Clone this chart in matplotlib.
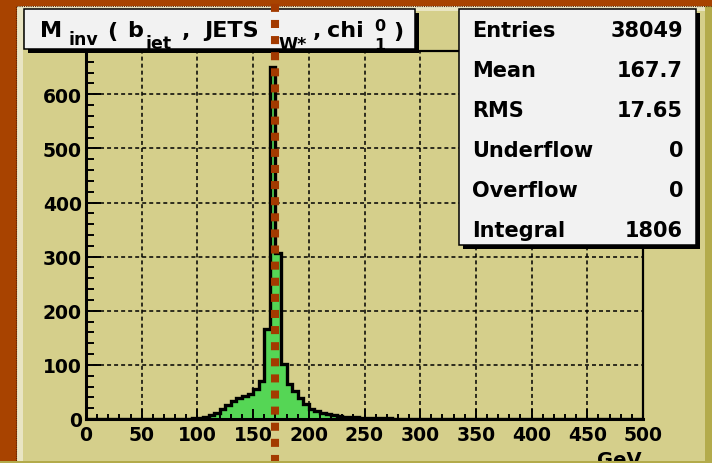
import numpy as np
import matplotlib
matplotlib.use("Agg")
import matplotlib.pyplot as plt
from matplotlib.patches import Rectangle
from matplotlib.lines import Line2D
from matplotlib import transforms

W, H = 712, 464

# histogram: 5 GeV bins from 0 to 500, non-empty part starts at 95 GeV
bin_width = 5
x_min, x_max = 0, 500
first_bin = 95
counts = [1, 2, 4, 7, 11, 18, 26, 34, 39, 42, 47, 55, 71, 166, 650, 306,
          102, 65, 51, 39, 27, 19, 14, 11, 9, 7, 5, 4, 3, 3, 2, 2, 1, 1, 1, 1]
marker_x = 170

x_ticks = [0, 50, 100, 150, 200, 250, 300, 350, 400, 450, 500]
y_ticks = [0, 100, 200, 300, 400, 500, 600]
y_max = 680

stat_names = ["Entries", "Mean", "RMS", "Underflow", "Overflow", "Integral"]
stat_values = ["38049", "167.7", "17.65", "0", "0", "1806"]

edges = np.arange(x_min, x_max + bin_width, bin_width)
values = np.zeros(len(edges) - 1)
i0 = first_bin // bin_width
values[i0:i0 + len(counts)] = counts

BG = "#a84300"
PAD = "#d5cf8b"
GREEN = "#55d655"
BOX = "#f2f2f2"
DASH = "#a33a00"
bold = dict(family="DejaVu Sans", weight="bold")


def px(x, y):
    return x / W, 1 - y / H


def rect(x0, y0, x1, y1, **kw):
    fig.add_artist(Rectangle(px(x0, y1), (x1 - x0) / W, (y1 - y0) / H,
                             transform=fig.transFigure, **kw))


fig = plt.figure(figsize=(W / 100, H / 100), dpi=100, facecolor=BG)

# pad with bevel
rect(17, 7, 712, 464, facecolor=PAD, edgecolor="none", zorder=-3)
rect(17, 7, 23, 462, facecolor="#e9e5c3", edgecolor="none", zorder=-2)
rect(17, 7, 705, 12, facecolor="#e9e5c3", edgecolor="none", zorder=-2)
rect(705, 7, 712, 464, facecolor="#b3ab4b", edgecolor="none", zorder=-2)
fig.add_artist(Line2D([16 / W, 16 / W, 1], [0, 1 - 7 / H, 1 - 7 / H],
                      transform=fig.transFigure, color="#5a2000", lw=0.8,
                      linestyle=(0, (1, 1)), zorder=-2))

ax = fig.add_axes([86 / W, (H - 420) / H, (643 - 86) / W, (420 - 52) / H])
ax.set_facecolor(PAD)

for xt in x_ticks[1:-1]:
    ax.axvline(xt, color="black", lw=1.1, linestyle=(0, (2.6, 2)), zorder=0.6)
for yt in y_ticks[1:]:
    ax.axhline(yt, color="black", lw=1.1, linestyle=(0, (2.6, 2)), zorder=0.6)

ax.stairs(values, edges, fill=True, color=GREEN, zorder=1)
ax.stairs(values, edges, color="black", lw=2.4, zorder=2)

ax.set_xlim(x_min, x_max)
ax.set_ylim(0, y_max)
ax.set_xticks(x_ticks)
ax.set_yticks(y_ticks)
ax.set_xticks(np.arange(0, 501, 10), minor=True)
ax.set_yticks(np.arange(0, y_max, 20), minor=True)
ax.tick_params(axis="x", which="major", direction="in", length=7.2, width=1.4, pad=4)
ax.tick_params(axis="x", which="minor", direction="in", length=3.6, width=1.4)
ax.tick_params(axis="y", which="major", direction="in", length=10.8, width=1.4, pad=3)
ax.tick_params(axis="y", which="minor", direction="in", length=5.8, width=1.4)
for lab in ax.get_xticklabels() + ax.get_yticklabels():
    lab.set_fontfamily("DejaVu Sans")
    lab.set_fontweight("bold")
    lab.set_fontsize(13.5)
for side in ["left", "bottom"]:
    ax.spines[side].set_linewidth(2.2)
for side in ["top", "right"]:
    ax.spines[side].set_linewidth(1.6)

fig.text(*px(642, 451), "GeV", ha="right", va="top", fontsize=14, zorder=3, **bold)
rect(0, 461.7, 712, 464, facecolor="#b3ab4b", edgecolor="none", zorder=9)

# title box
rect(28, 14, 419, 54, facecolor="black", edgecolor="none", zorder=4)
rect(24, 10, 415, 50, facecolor=BOX, edgecolor="black", lw=1.1, zorder=5)
title_parts = [("M", 40, 37, 16), ("inv", 68, 45, 12.5), ("(", 107, 38, 16),
               ("b", 127, 37, 16), ("jet", 146, 49, 12.5), (",", 182, 37, 16),
               ("JETS", 204, 37, 16), ("W*", 278, 50, 12.5), (",", 313, 37, 16),
               ("chi", 327, 37, 16), ("0", 374, 31, 11.5), ("1", 374, 50, 11.5),
               (")", 393, 38, 16)]
for s, x, y, size in title_parts:
    fig.text(*px(x, y), s, ha="left", va="baseline", fontsize=size, zorder=6, **bold)

# stats box
rect(463, 14, 700, 250, facecolor="black", edgecolor="none", zorder=4)
rect(459, 10, 696, 246, facecolor=BOX, edgecolor="black", lw=1.1, zorder=5)
for k, (name, val) in enumerate(zip(stat_names, stat_values)):
    y = 36.7 + 40 * k
    fig.text(*px(472, y), name, ha="left", va="baseline", fontsize=15, zorder=6, **bold)
    fig.text(*px(683, y), val, ha="right", va="baseline", fontsize=15, zorder=6, **bold)

# vertical dashed marker across the whole pad
tr = transforms.blended_transform_factory(ax.transData, fig.transFigure)
fig.add_artist(Line2D([marker_x, marker_x], [0, 1 - 3 / H], transform=tr,
                      color=DASH, lw=5.8, linestyle=(0, (1, 1)),
                      solid_capstyle="butt", dash_capstyle="butt", zorder=8))

fig.savefig("out.png", dpi=100, facecolor=BG)
